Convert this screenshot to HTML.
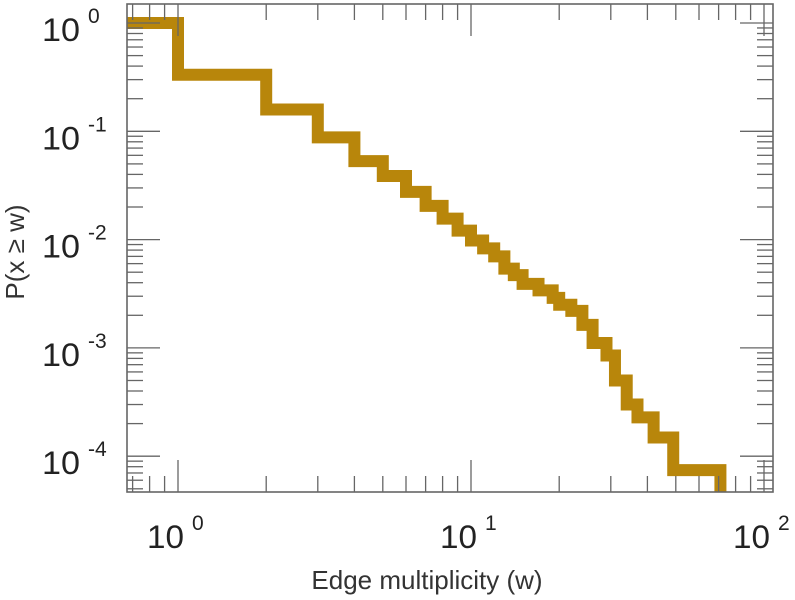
<!DOCTYPE html>
<html><head><meta charset="utf-8"><style>
html,body{margin:0;padding:0;background:#fff;}
svg{display:block;font-family:"Liberation Sans",sans-serif;}
</style></head><body>
<svg id="chart" width="795" height="600" viewBox="0 0 795 600" xmlns="http://www.w3.org/2000/svg">
<text x="427" y="589" font-size="26" fill="#333" text-anchor="middle">Edge multiplicity (w)</text>
<text transform="translate(24,252) rotate(-90)" font-size="26" fill="#333" text-anchor="middle">P(x ≥ w)</text>
</svg>
<script>
// step breakpoints (w) and CCDF level after each breakpoint
const breaks = [1,2,3,4,5,6,7,8,9,10,11,12,13,14,15,17,19,20,22,24,26,29,31,34,37,42,49,71];
const levels = [0.333,0.159,0.088,0.053,0.0387,0.0276,0.0205,0.0156,0.0121,0.0098,0.0083,0.0070,0.0054,0.0047,0.0039,0.0034,0.0029,0.0025,0.0022,0.00163,0.00111,0.00085,0.0005,0.0003,0.000228,0.000149,0.0000744,0];
const startLevel = 1;
const xTickExps = [0,1,2];
const yTickExps = [0,-1,-2,-3,-4];

const L=127,R=773,T=4,B=492;
const x0=178, xDec=293, y0=23, yDec=108.3;
const xs = w => x0 + Math.log10(w)*xDec;
const ys = p => p<=0 ? B+20 : y0 - Math.log10(p)*yDec;
const wMin = Math.pow(10,(L-x0)/xDec), wMax = Math.pow(10,(R-x0)/xDec);
const pMin = Math.pow(10,-(B-y0)/yDec), pMax = Math.pow(10,-(T-y0)/yDec);
const svg=document.getElementById('chart');
const NS='http://www.w3.org/2000/svg';
function mk(t,a){const e=document.createElementNS(NS,t);for(const k in a)e.setAttribute(k,a[k]);svg.appendChild(e);return e;}

const defs=mk('defs',{});
const cp=document.createElementNS(NS,'clipPath');cp.setAttribute('id','pc');
const cr=document.createElementNS(NS,'rect');cr.setAttribute('x',L);cr.setAttribute('y',T);cr.setAttribute('width',R-L);cr.setAttribute('height',B-T);
cp.appendChild(cr);defs.appendChild(cp);

let d='M'+L+','+ys(startLevel);
let cur=startLevel;
breaks.forEach((w,i)=>{d+=' L'+xs(w)+','+ys(cur);cur=levels[i];d+=' L'+xs(w)+','+ys(cur);});
const line=mk('path',{d:d,fill:'none',stroke:'#b8860b','stroke-width':12,'stroke-linejoin':'miter','clip-path':'url(#pc)'});



const ax='#666';
for(let e=-1;e<=2;e++){for(let m=1;m<=9;m++){const w=m*Math.pow(10,e);if(w<wMin||w>wMax)continue;const x=xs(w);const len=m===1?32:16;
 const t1=mk('line',{x1:x,x2:x,y1:B,y2:B-len,stroke:ax,'stroke-width':1.3});
 
 
 const t2=mk('line',{x1:x,x2:x,y1:T,y2:T+len,stroke:ax,'stroke-width':1.3});
 
 }}
for(let e=-5;e<=0;e++){for(let m=1;m<=9;m++){const p=m*Math.pow(10,e);if(p<pMin||p>pMax)continue;const y=ys(p);const len=m===1?33:16;
 const t1=mk('line',{x1:L,x2:L+len,y1:y,y2:y,stroke:ax,'stroke-width':1.3});
 
 
 const t2=mk('line',{x1:R,x2:R-len,y1:y,y2:y,stroke:ax,'stroke-width':1.3});
 
 }}
const frame=mk('rect',{x:L,y:T,width:R-L,height:B-T,fill:'none',stroke:ax,'stroke-width':1.6});



xTickExps.forEach(e=>{const x=xs(Math.pow(10,e));
 const t=mk('text',{x:x-31,y:548,'font-size':32,fill:'#222',textLength:37,lengthAdjust:'spacingAndGlyphs'});t.textContent='10';
 
 
 const s=mk('text',{x:x+14,y:530,'font-size':21,fill:'#222'});s.textContent=String(e);
 
 });
yTickExps.forEach(e=>{const y=ys(Math.pow(10,e));
 const t=mk('text',{x:42,y:y+18,'font-size':32,fill:'#222',textLength:38,lengthAdjust:'spacingAndGlyphs'});t.textContent='10';
 
 
 const s=mk('text',{x:88,y:y,'font-size':21,fill:'#222'});s.textContent=String(e);
 
 });
</script>
</body></html>
